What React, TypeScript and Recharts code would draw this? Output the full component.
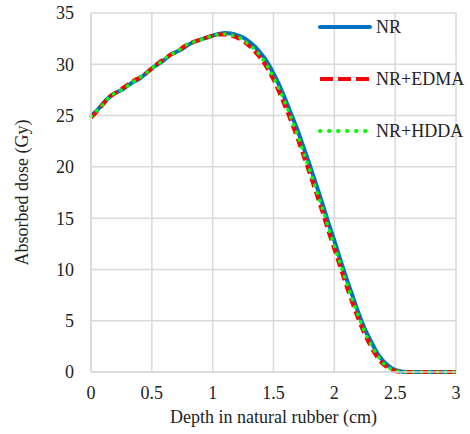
import { LineChart, Line, XAxis, YAxis, CartesianGrid, Legend } from "recharts";

const depth = [
  0, 0.05, 0.1, 0.15, 0.2, 0.25, 0.3, 0.35, 0.4, 0.45,
  0.5, 0.55, 0.6, 0.65, 0.7, 0.75, 0.8, 0.85, 0.9, 0.95,
  1, 1.05, 1.1, 1.15, 1.2, 1.25, 1.3, 1.35, 1.4, 1.45,
  1.5, 1.55, 1.6, 1.65, 1.7, 1.75, 1.8, 1.85, 1.9, 1.95,
  2, 2.05, 2.1, 2.15, 2.2, 2.25, 2.3, 2.35, 2.4, 2.45,
  2.5, 2.55, 2.6, 2.65, 2.7, 2.75, 2.8, 2.85, 2.9, 2.95, 3,
];

const nr = [
  25.0, 25.5, 26.2, 26.8, 27.2, 27.5, 27.9, 28.3, 28.6, 29.1,
  29.6, 30.0, 30.4, 30.9, 31.2, 31.5, 31.9, 32.2, 32.4, 32.6,
  32.8, 32.95, 33.05, 33.0, 32.85, 32.6, 32.2, 31.7, 31.0, 30.2,
  29.1, 27.9, 26.5, 25.0, 23.5, 21.8, 20.1, 18.3, 16.5, 14.6,
  12.8, 10.9, 9.1, 7.4, 5.7, 4.2, 3.0, 1.9, 1.1, 0.55,
  0.2, 0.05, 0, 0, 0, 0, 0, 0, 0, 0, 0,
];

const nrEdma = [
  24.8, 25.4, 26.1, 26.8, 27.2, 27.6, 28.0, 28.4, 28.7, 29.1,
  29.6, 30.1, 30.5, 30.9, 31.2, 31.6, 32.0, 32.2, 32.4, 32.6,
  32.8, 32.9, 32.9, 32.8, 32.6, 32.3, 31.8, 31.2, 30.5, 29.6,
  28.5, 27.2, 25.8, 24.3, 22.7, 21.0, 19.3, 17.5, 15.7, 13.8,
  12.0, 10.2, 8.4, 6.7, 5.1, 3.7, 2.5, 1.5, 0.8, 0.35,
  0.1, 0.02, 0, 0, 0, 0, 0, 0, 0, 0, 0,
];

const nrHdda = [
  24.9, 25.5, 26.1, 26.8, 27.2, 27.5, 27.9, 28.3, 28.7, 29.1,
  29.6, 30.0, 30.5, 30.9, 31.2, 31.6, 32.0, 32.2, 32.4, 32.6,
  32.8, 32.9, 32.95, 32.85, 32.7, 32.4, 31.9, 31.4, 30.7, 29.8,
  28.7, 27.5, 26.1, 24.6, 23.0, 21.3, 19.6, 17.8, 16.0, 14.1,
  12.3, 10.5, 8.7, 7.0, 5.4, 3.9, 2.7, 1.7, 0.9, 0.4,
  0.12, 0.03, 0, 0, 0, 0, 0, 0, 0, 0, 0,
];

const xTicks = [0, 0.5, 1, 1.5, 2, 2.5, 3];
const yTicks = [0, 5, 10, 15, 20, 25, 30, 35];

const data = depth.map((d, i) => ({ depth: d, nr: nr[i], edma: nrEdma[i], hdda: nrHdda[i] }));

const FONT = "'Liberation Serif', 'Times New Roman', serif";
const GRID = "#d9d9d9";
const TEXT = "#222";

const legendItems = [
  { name: "NR", color: "#0070C0", dash: undefined, width: 4, cap: "round" },
  { name: "NR+EDMA", color: "#FF0000", dash: "13 5", width: 4, cap: "butt" },
  { name: "NR+HDDA", color: "#00FF00", dash: "0.5 8.5", width: 4, cap: "round" },
];

function LegendBox() {
  return (
    <div style={{ fontFamily: FONT, fontSize: 18, color: TEXT }}>
      {legendItems.map((it) => (
        <div key={it.name} style={{ display: "flex", alignItems: "center", height: 52 }}>
          <svg width={56} height={10} style={{ marginRight: 2 }}>
            <line
              x1={2}
              y1={5}
              x2={52}
              y2={5}
              stroke={it.color}
              strokeWidth={it.width}
              strokeDasharray={it.dash}
              strokeLinecap={it.cap as any}
            />
          </svg>
          <span>{it.name}</span>
        </div>
      ))}
    </div>
  );
}

export default function App() {
  return (
    <div style={{ position: "absolute", left: 0, top: 0, background: "#fff" }}>
      <LineChart width={470} height={434} data={data} margin={{ top: 13, right: 14, bottom: 0, left: 0 }}>
        <CartesianGrid stroke={GRID} strokeWidth={1.5} />
        <XAxis
          dataKey="depth"
          type="number"
          domain={[0, 3]}
          ticks={xTicks}
          height={62}
          tickLine={false}
          tickSize={0}
          tickMargin={14}
          axisLine={{ stroke: GRID, strokeWidth: 1.5 }}
          tick={{ fill: TEXT, fontSize: 18, fontFamily: FONT }}
          label={{
            value: "Depth in natural rubber (cm)",
            position: "insideBottom",
            offset: 11,
            fill: TEXT,
            fontSize: 18,
            fontFamily: FONT,
          }}
        />
        <YAxis
          type="number"
          domain={[0, 35]}
          ticks={yTicks}
          width={91}
          tickLine={false}
          tickSize={0}
          tickMargin={17}
          axisLine={{ stroke: GRID, strokeWidth: 1.5 }}
          tick={{ fill: TEXT, fontSize: 18, fontFamily: FONT }}
          label={{
            value: "Absorbed dose (Gy)",
            angle: -90,
            position: "insideLeft",
            offset: 22,
            fill: TEXT,
            fontSize: 18,
            fontFamily: FONT,
            style: { textAnchor: "middle" },
          }}
        />
        <Legend
          layout="horizontal"
          verticalAlign="middle"
          align="center"
          content={() => <LegendBox />}
          wrapperStyle={{ left: 318, top: 1, width: 152 }}
        />
        <Line
          type="monotone"
          dataKey="nr"
          name="NR"
          stroke="#0070C0"
          strokeWidth={4}
          dot={false}
          isAnimationActive={false}
        />
        <Line
          type="monotone"
          dataKey="edma"
          name="NR+EDMA"
          stroke="#FF0000"
          strokeWidth={4}
          strokeDasharray="9 5"
          dot={false}
          isAnimationActive={false}
        />
        <Line
          type="monotone"
          dataKey="hdda"
          name="NR+HDDA"
          stroke="#00FF00"
          strokeWidth={3.5}
          strokeDasharray="0.5 7.5"
          strokeLinecap="round"
          dot={false}
          isAnimationActive={false}
        />
      </LineChart>
    </div>
  );
}
